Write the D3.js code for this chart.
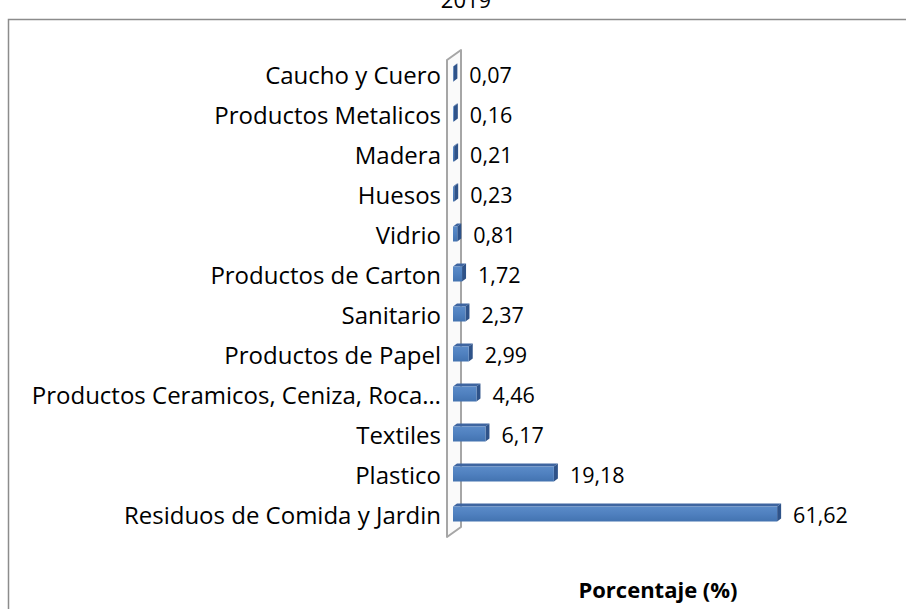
<!DOCTYPE html>
<html>
<head>
<meta charset="utf-8">
<script src="https://cdn.jsdelivr.net/npm/d3@7"></script>
<style>
  body { margin: 0; background: #fff; }
  svg { display: block; font-family: "Open Sans", sans-serif; }
</style>
</head>
<body>
<script>
var width = 906, height = 609;

// categories from bottom row to top row
var categories = ["Residuos de Comida y Jardin", "Plastico", "Textiles",
  "Productos Ceramicos, Ceniza, Roca\u2026", "Productos de Papel", "Sanitario",
  "Productos de Carton", "Vidrio", "Huesos", "Madera", "Productos Metalicos", "Caucho y Cuero"];
var values = [61.62, 19.18, 6.17, 4.46, 2.99, 2.37, 1.72, 0.81, 0.23, 0.21, 0.16, 0.07];
var title = "2019";
var axisTitle = "Porcentaje (%)";

var fmt = function(v) { return v.toFixed(2).replace(".", ","); };

var svg = d3.select("body").append("svg")
  .attr("width", width)
  .attr("height", height);

var defs = svg.append("defs");
var grad = defs.append("linearGradient").attr("id", "front")
  .attr("x1", 0).attr("y1", 0).attr("x2", 0).attr("y2", 1);
grad.append("stop").attr("offset", "0%").attr("stop-color", "#5b8bc8");
grad.append("stop").attr("offset", "50%").attr("stop-color", "#4f80bf");
grad.append("stop").attr("offset", "100%").attr("stop-color", "#4373b0");

// outer frame (runs off the right and bottom edges)
svg.append("rect")
  .attr("x", 8.5).attr("y", 19.5)
  .attr("width", 920).attr("height", 620)
  .attr("fill", "none")
  .attr("stroke", "#8c8c8c")
  .attr("stroke-width", 1.5);

// title, mostly cut off at the top
svg.append("text")
  .attr("x", 466).attr("y", 8)
  .attr("text-anchor", "middle")
  .attr("font-size", 22)
  .text(title);

var y = d3.scaleBand()
  .domain(categories.slice().reverse())
  .range([53.5, 533.5]);

var x = d3.scaleLinear()
  .domain([0, 70])
  .range([453, 453 + 70 * 5.26]);

var dx = 4, dy = -3, barH = 15;

// the thin 3D wall behind the bars
var wx = 447, wd = 14, wdy = -10;
svg.append("polygon")
  .attr("points", [[wx, 60], [wx + wd, 60 + wdy], [wx + wd, 537 + wdy], [wx, 537]].join(" "))
  .attr("fill", "#fafafa")
  .attr("stroke", "#a6a6a6")
  .attr("stroke-width", 2)
  .attr("stroke-linejoin", "round");

var bars = svg.append("g").selectAll("g")
  .data(categories)
  .enter().append("g");

bars.each(function(c, i) {
  var g = d3.select(this);
  var x0 = x(0), x1 = x(values[i]);
  var yc = y(c) + y.bandwidth() / 2;
  var yt = yc - 7, yb = yt + barH;
  g.append("polygon")
    .attr("points", [[x0, yt], [x0 + dx, yt + dy], [x1 + dx, yt + dy], [x1, yt]].join(" "))
    .attr("fill", "#3e65a0");
  g.append("polygon")
    .attr("points", [[x1, yt], [x1 + dx, yt + dy], [x1 + dx, yb + dy], [x1, yb]].join(" "))
    .attr("fill", "#2f5389");
  g.append("rect")
    .attr("x", x0).attr("y", yt)
    .attr("width", Math.max(0.5, x1 - x0)).attr("height", barH)
    .attr("fill", "url(#front)");
});

// category labels
svg.append("g").selectAll("text")
  .data(categories)
  .enter().append("text")
  .attr("x", 441)
  .attr("y", function(c) { return y(c) + y.bandwidth() / 2 + 1; })
  .attr("text-anchor", "end")
  .attr("dominant-baseline", "central")
  .attr("font-size", 24)
  .attr("fill", "#000")
  .text(function(c) { return c; });

// value labels
svg.append("g").selectAll("text")
  .data(categories)
  .enter().append("text")
  .attr("x", function(c, i) { return x(values[i]) + 16; })
  .attr("y", function(c) { return y(c) + y.bandwidth() / 2 + 1; })
  .attr("dominant-baseline", "central")
  .attr("font-size", 21.5)
  .attr("fill", "#000")
  .text(function(c, i) { return fmt(values[i]); });

svg.append("text")
  .attr("x", 658).attr("y", 589)
  .attr("text-anchor", "middle")
  .attr("dominant-baseline", "central")
  .attr("font-size", 22)
  .attr("font-weight", "bold")
  .text(axisTitle);
</script>
</body>
</html>
